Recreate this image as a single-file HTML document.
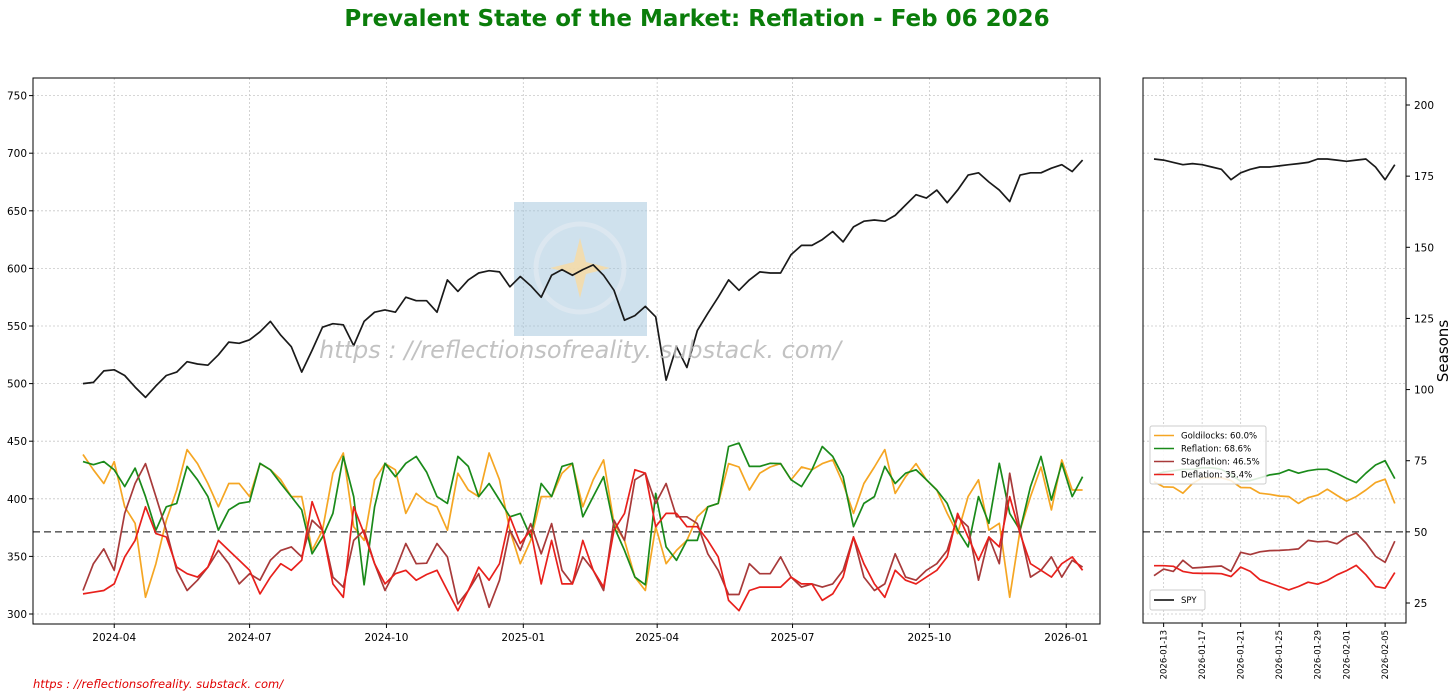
<!DOCTYPE html>
<html><head><meta charset="utf-8"><style>
html,body{margin:0;padding:0;background:#fff;}
svg{display:block;font-family:"DejaVu Sans","Liberation Sans",sans-serif;}
</style></head><body>
<svg id="chart" width="1456" height="698" viewBox="0 0 1456 698" xmlns="http://www.w3.org/2000/svg">
<text x="697" y="26" text-anchor="middle" font-size="23" font-weight="bold" fill="#0a7d0a">Prevalent State of the Market: Reflation - Feb 06 2026</text>
<g id="main"></g>
<g id="side"></g>
<text x="33" y="688" font-size="11.5" font-style="italic" fill="#e00000">https : //reflectionsofreality. substack. com/</text>
<text transform="translate(1448,351) rotate(-90)" text-anchor="middle" font-size="15" fill="#000">Seasons</text>
</svg>
<script>
// ---- main panel data (weekly samples starting 2024-03-11) ----
const spy = [500,501,511,512,507,497,488,498,507,510,519,517,516,525,536,535,538,545,554,542,532,510,529,549,552,551,533,554,562,564,562,575,572,572,562,590,580,590,596,598,597,584,593,585,575,594,599,594,599,603,594,581,555,559,567,558,503,532,514,546,561,575,590,581,590,597,596,596,612,620,620,625,632,623,636,641,642,641,646,655,664,661,668,657,668,681,683,675,668,658,681,683,683,687,690,684,694];
const goldilocks = [77.2,71.8,67,74.7,58.8,53,27,38.8,54,64.7,78.9,74,67,58.8,67,67,62.4,74,71.8,68.3,62.4,62.4,43.5,50.6,70.6,77.7,51.8,47,68.3,74,71.8,56.5,63.5,60.5,58.8,50.6,70.6,64.7,62.4,77.7,68.3,50.6,38.8,47,62.4,62.4,70.6,74,58.8,68.3,75.3,53,47,34.1,29.4,51.8,38.8,43.5,47,55.3,58.8,60,74,72.8,64.7,70.6,72.8,74,68.3,72.8,71.8,74,75.3,67,56.5,67,72.8,78.9,63.5,69.4,74,68.3,64.7,56.5,49.4,62.4,68.3,50.6,53,27,50.6,62.4,72.8,57.7,75.3,64.7,64.7];
const reflation = [74.7,73.6,74.7,71.8,65.9,72.4,62.4,50.6,58.8,60,73,68.3,62.4,50.6,57.7,60,60.6,74.1,71.8,67,62.4,57.7,42.3,48.2,56.5,76.5,62.4,31.4,58.8,74.1,69.4,74.1,76.5,71,62.4,60,76.5,73,62.4,67,61.2,55.3,56.5,48.2,67,62.4,73,74.1,55.3,62.4,69.4,51.8,43.5,34.1,31.4,63.5,44.7,40,47,47,58.8,60,80,81.2,73,73,74.1,74,68.3,65.9,71.8,80,76.5,69.4,51.8,60,62.4,73,67,70.6,71.8,68.3,64.7,60,50.6,44.7,62.4,53,74.1,56.5,50.6,65.9,76.5,61.2,74.1,62.4,69.4];
const stagflation = [29.4,38.8,44,36.5,56.5,67,74,62.4,50.6,36.5,29.4,33,37.6,43.5,38.8,31.7,35.3,33,40,43.5,44.7,41.2,54.1,50.6,34.1,30.6,47,50.6,38.8,29.4,36.5,45.9,38.8,39,45.9,41.2,24.7,29.4,35.3,23.5,33,50.6,43.5,52.9,42.3,52.9,36.5,31.7,41.2,36.5,29.4,54.1,47,68.3,70.6,60,67,55.3,55.3,52.9,42.3,36.5,28,28,38.8,35.3,35.3,41.2,34.1,30.6,31.7,30.6,31.7,36.5,48.2,34.1,29.4,31.7,42.3,34.1,33,36.5,38.8,43.5,55.3,51.8,33,48.2,38.8,70.6,50.6,34.1,36.5,41.2,34.1,40,37.6];
const deflation = [28.2,28.8,29.4,31.7,41.2,47,58.8,49.4,48.2,37.6,35.3,34.1,37.6,47,43.5,40,36.5,28.2,34.1,38.8,36.5,40,60.6,50.6,31.7,27,58.8,49.4,38.8,31.7,35.3,36.5,33,35,36.5,29.4,22.3,29.4,37.6,33,38.8,55.3,45.9,50.6,31.7,47,31.7,31.7,47,36.5,30.6,50.6,56.5,71.8,70.6,51.8,56.5,56.5,51.8,51.8,47,41.2,25.9,22.3,29.4,30.6,30.6,30.6,34.1,31.7,31.7,25.9,28.2,34.1,48.2,38.8,31.7,27,36.5,33,31.7,34.1,36.5,41.2,56.5,48.2,40,48.2,44.7,62.4,49.4,38.8,36.5,34.1,38.8,41.2,36.5];
const yTicksLeft = [300,350,400,450,500,550,600,650,700,750];
const xTickLabels = ["2024-04","2024-07","2024-10","2025-01","2025-04","2025-07","2025-10","2026-01"];
const xTickDays = [21,112,204,296,386,477,569,661]; // days after 2024-03-11
// ---- recent panel data (daily, 2026-01-12 .. 2026-02-06) ----
const spyRecent = [695,694,692,690,691,690,688,686,677,683,686,688,688,689,690,691,692,695,695,694,693,694,695,688,677,690];
const gRecent = [67.6,65.8,65.7,63.6,67,69,69,69,68,65.6,65.5,63.6,63.2,62.6,62.4,60,62,62.9,65,62.8,60.8,62.4,64.7,67.3,68.5,60];
const rRecent = [70,71,71.5,72,72,72.5,72.5,72,70,67.8,68,69,70,70.5,71.8,70.6,71.5,72,72,70.5,68.8,67.3,70.6,73.5,75,68.7];
const sRecent = [34.6,36.9,36.1,40,37.3,37.5,37.8,38,36.1,42.8,42,43,43.4,43.5,43.7,44,47,46.5,46.7,45.8,48.2,49.6,46.1,41.4,39.3,46.7];
const dRecent = [38.1,38.1,37.9,36.1,35.5,35.4,35.4,35.3,34.3,37.6,36.1,33.2,32,30.8,29.6,30.8,32.3,31.6,32.9,34.9,36.4,38.2,34.9,30.8,30.2,35.7];
const recentTickLabels = ["2026-01-13","2026-01-17","2026-01-21","2026-01-25","2026-01-29","2026-02-01","2026-02-05"];
const recentTickDays = [1,5,9,13,17,20,24];
const yTicksRight = [25,50,75,100,125,150,175,200];
const legendLabels = ["Goldilocks: 60.0%","Reflation: 68.6%","Stagflation: 46.5%","Deflation: 35.4%"];

const NS="http://www.w3.org/2000/svg";
function mk(tag,attrs,parent){const e=document.createElementNS(NS,tag);for(const k in attrs)e.setAttribute(k,attrs[k]);parent.appendChild(e);return e;}
const yL = v => 614 - (v-300)*1.152;
const yR = v => 603 - (v-25)*2.8457;
const xMainDay = d => 83 + d*1.4875;
const xMainWeek = i => xMainDay(i*7);
const xSide = d => 1154 + d*9.63;
const C = {g:"#f5a623",r:"#1a8a1a",s:"#a83a3a",d:"#e8201c"};
let cur=null;
function line(arr,xf,yf,color,name,w){
  const p=mk('polyline',{points:arr.map((v,i)=>xf(i).toFixed(1)+","+yf(v).toFixed(1)).join(" "),fill:"none",stroke:color,"stroke-width":w||1.7,"stroke-linejoin":"round"},cur);
  
  
  return p;
}

// ---------- MAIN ----------
const main=document.getElementById('main');
cur=main;
const M={l:33,t:78,r:1100,b:624};
yTicksLeft.forEach(v=>{
  const y=yL(v);
  const gl=mk('line',{x1:M.l,x2:M.r,y1:y,y2:y,stroke:"#c8c8c8","stroke-width":0.8,"stroke-dasharray":"2,2"},main);
  
  
  mk('line',{x1:M.l-4,x2:M.l,y1:y,y2:y,stroke:"#000"},main);
  const t=mk('text',{x:M.l-6,y:y+4,"text-anchor":"end","font-size":10.5},main);
  t.textContent=v;
  
  
});
xTickDays.forEach((d,i)=>{
  const x=xMainDay(d);
  const gl=mk('line',{x1:x,x2:x,y1:M.t,y2:M.b,stroke:"#c8c8c8","stroke-width":0.8,"stroke-dasharray":"2,2"},main);
  
  
  mk('line',{x1:x,x2:x,y1:M.b,y2:M.b+4,stroke:"#000"},main);
  const t=mk('text',{x:x,y:M.b+17,"text-anchor":"middle","font-size":10.5},main);
  t.textContent=xTickLabels[i];
  
  
});
const wm=mk('rect',{x:514,y:202,width:133,height:134,fill:"#9fc3dc",opacity:0.5},main);


mk('circle',{cx:580,cy:268,r:44,fill:"none",stroke:"#dfe9f0","stroke-width":5,opacity:0.8},main);
mk('polygon',{points:"580,238 586,262 610,268 586,274 580,298 574,274 550,268 574,262",fill:"#f4dca8",opacity:0.9},main);
line(spy,xMainWeek,yL,"#1a1a1a","spy-line",1.7);
const dash=mk('line',{x1:M.l,x2:M.r,y1:yR(50),y2:yR(50),stroke:"#666","stroke-width":1.6,"stroke-dasharray":"7,4"},main);


line(goldilocks,xMainWeek,yR,C.g,"goldilocks-line");
line(reflation,xMainWeek,yR,C.r,"reflation-line");
line(stagflation,xMainWeek,yR,C.s,"stagflation-line");
line(deflation,xMainWeek,yR,C.d,"deflation-line");
const wt=mk('text',{x:580,y:358,"text-anchor":"middle","font-size":24,"font-style":"italic",fill:"#b8b8b8",opacity:0.85},main);
wt.textContent="https : //reflectionsofreality. substack. com/";


mk('rect',{x:M.l,y:M.t,width:M.r-M.l,height:M.b-M.t,fill:"none",stroke:"#000","stroke-width":1},main);

// ---------- SIDE ----------
const side=document.getElementById('side');
cur=side;
const S={l:1143,t:78,r:1406,b:623};
yTicksLeft.forEach(v=>{
  const y=yL(v);
  const gl=mk('line',{x1:S.l,x2:S.r,y1:y,y2:y,stroke:"#c8c8c8","stroke-width":0.8,"stroke-dasharray":"2,2"},side);
  
  
});
yTicksRight.forEach(v=>{
  const y=yR(v);
  mk('line',{x1:S.r,x2:S.r+4,y1:y,y2:y,stroke:"#000"},side);
  const t=mk('text',{x:S.r+8,y:y+4,"font-size":10.5},side);
  t.textContent=v;
  
  
});
recentTickDays.forEach((d,i)=>{
  const x=xSide(d);
  const gl=mk('line',{x1:x,x2:x,y1:S.t,y2:S.b,stroke:"#c8c8c8","stroke-width":0.8,"stroke-dasharray":"2,2"},side);
  
  
  mk('line',{x1:x,x2:x,y1:S.b,y2:S.b+4,stroke:"#000"},side);
  const t=mk('text',{transform:`translate(${x+3},${S.b+7}) rotate(-90)`,"text-anchor":"end","font-size":8.5},side);
  t.textContent=recentTickLabels[i];
  
  
});
line(spyRecent,xSide,yL,"#1a1a1a","spy-recent-line",1.7);
const dash2=mk('line',{x1:S.l,x2:S.r,y1:yR(50),y2:yR(50),stroke:"#666","stroke-width":1.6,"stroke-dasharray":"7,4"},side);


line(gRecent,xSide,yR,C.g,"goldilocks-recent-line");
line(rRecent,xSide,yR,C.r,"reflation-recent-line");
line(sRecent,xSide,yR,C.s,"stagflation-recent-line");
line(dRecent,xSide,yR,C.d,"deflation-recent-line");
mk('rect',{x:S.l,y:S.t,width:S.r-S.l,height:S.b-S.t,fill:"none",stroke:"#000","stroke-width":1},side);
const lg=mk('g',{},side);


mk('rect',{x:1150,y:426,width:116,height:58,fill:"#fff","fill-opacity":0.85,stroke:"#ccc",rx:2},lg);
[C.g,C.r,C.s,C.d].forEach((c,i)=>{
  const y=435.5+i*13;
  mk('line',{x1:1154,x2:1174,y1:y,y2:y,stroke:c,"stroke-width":1.6},lg);
  const t=mk('text',{x:1181,y:y+3,"font-size":8.5},lg);
  t.textContent=legendLabels[i];
  
  
});
const lg2=mk('g',{},side);


mk('rect',{x:1150,y:590,width:55,height:20,fill:"#fff",stroke:"#ccc",rx:2},lg2);
mk('line',{x1:1154,x2:1174,y1:600,y2:600,stroke:"#000","stroke-width":1.6},lg2);
const st=mk('text',{x:1181,y:603,"font-size":8.5},lg2);
st.textContent="SPY";


</script>
</body></html>
